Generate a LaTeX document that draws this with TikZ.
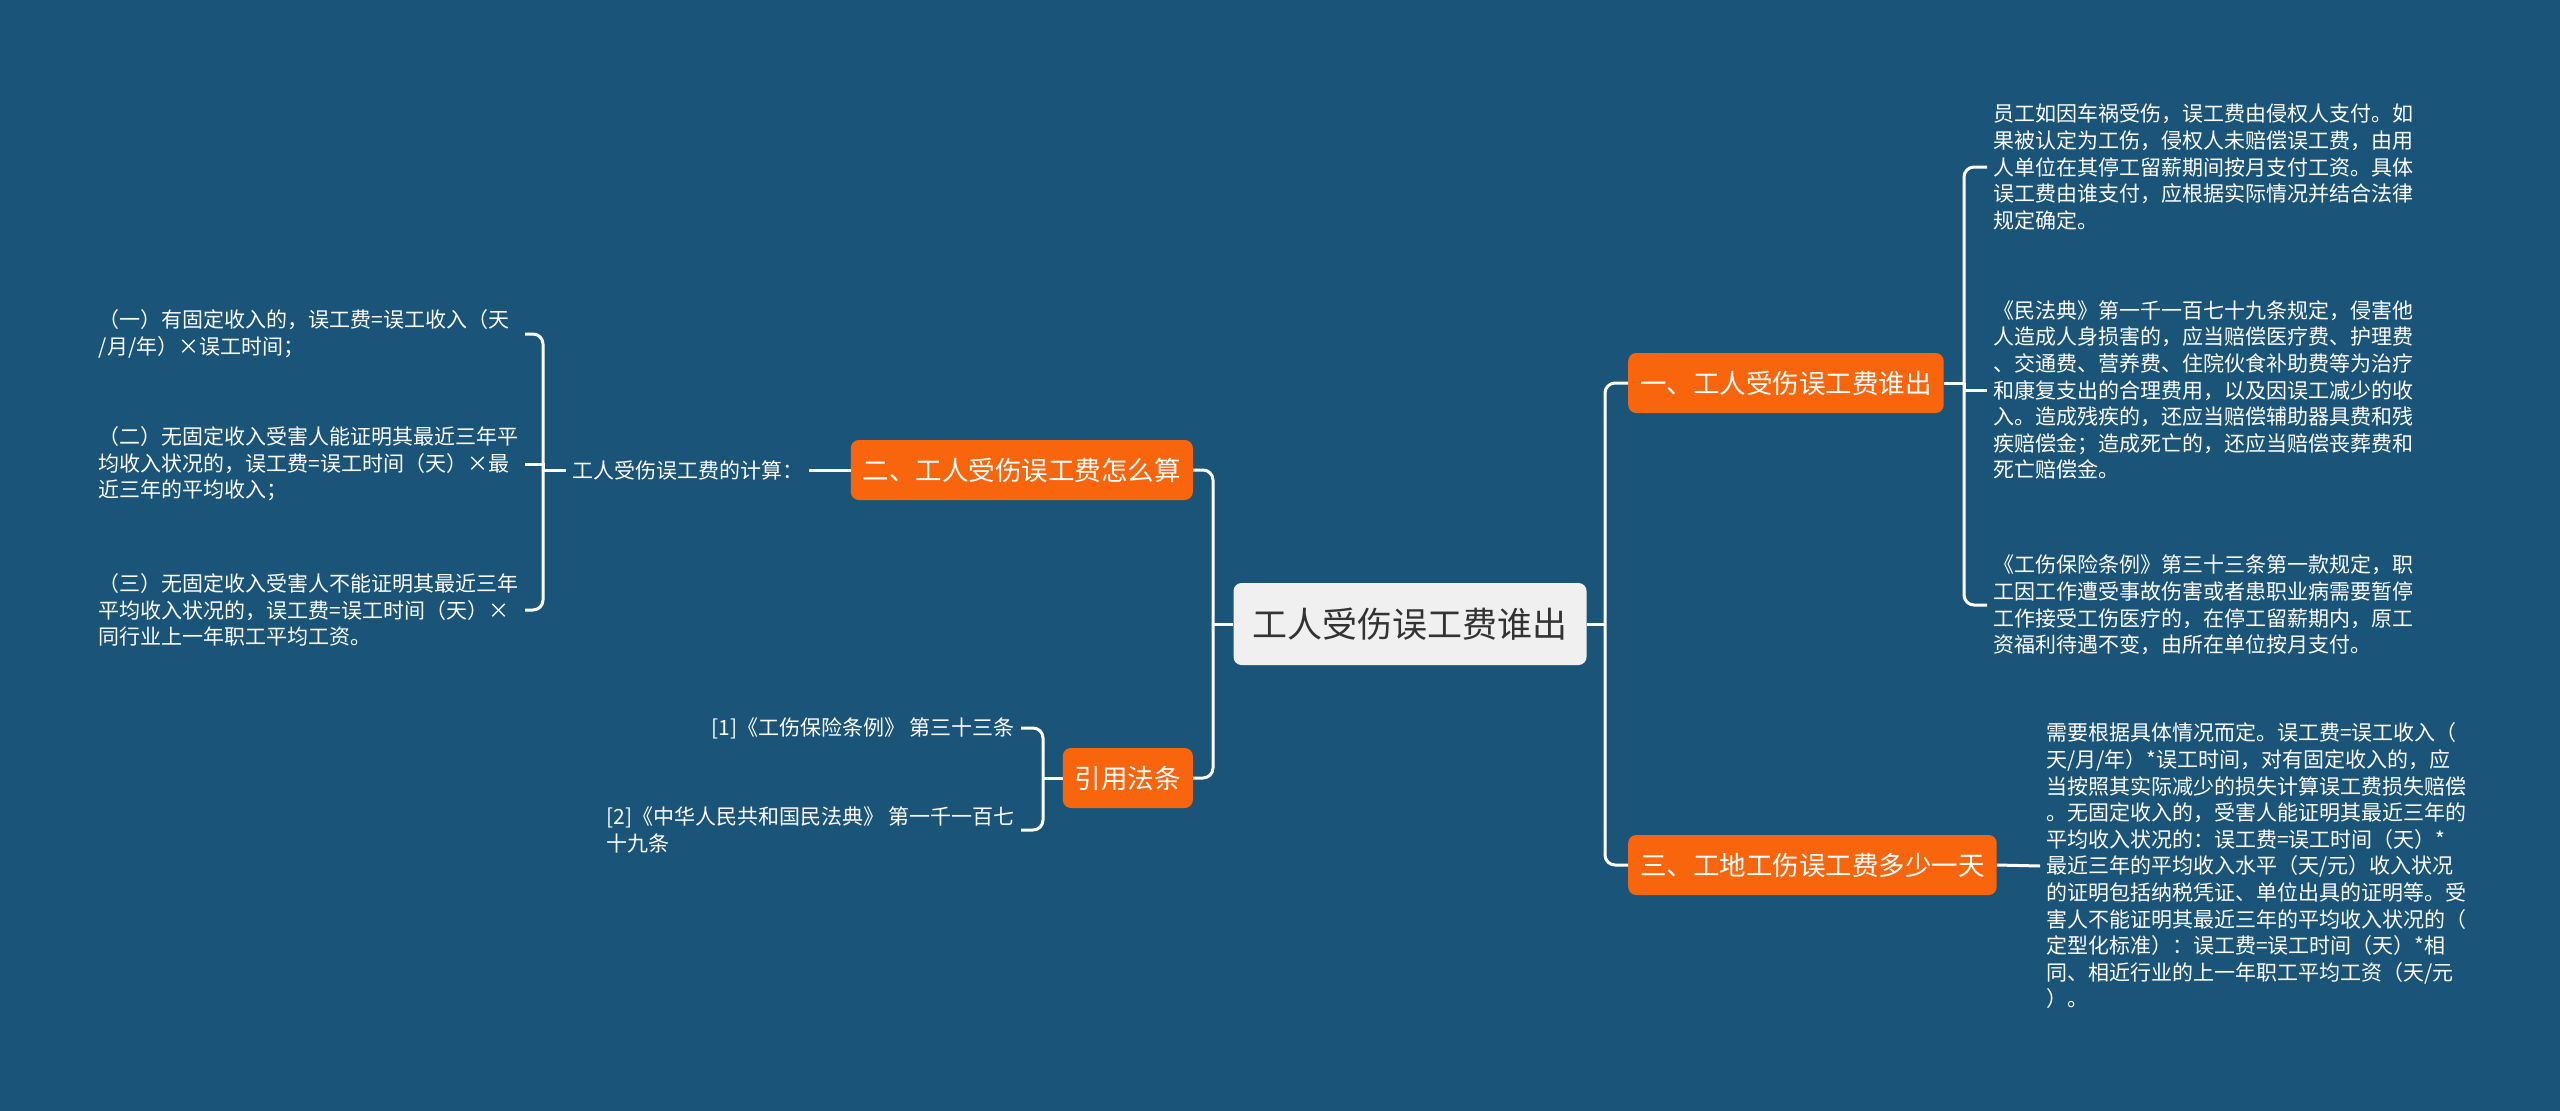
\documentclass[tikz,border=0pt]{standalone}
\usepackage{fontspec}
\setmainfont{Noto Sans CJK SC}
\usetikzlibrary{positioning}
\definecolor{mmbg}{HTML}{1B5479}
\definecolor{mmorange}{HTML}{F8650C}
\definecolor{mmroot}{HTML}{F0F0F0}
\definecolor{mmtext}{HTML}{333333}
\tikzset{
  rootnode/.style = {fill=mmroot, text=mmtext, rounded corners=8pt,
                     inner xsep=19pt, minimum height=82pt,
                     font=\fontsize{35}{42}\selectfont},
  topic/.style    = {fill=mmorange, text=white, rounded corners=8pt,
                     inner xsep=12pt, minimum height=60pt,
                     font=\fontsize{26.5}{32}\selectfont},
  leaf/.style     = {text=white, align=left, inner sep=6pt,
                     font=\fontsize{21}{26.6}\selectfont},
  leafw/.style    = {leaf, text width=420pt},
  link/.style     = {draw=white, line width=3pt},
  elbow/.style    = {link, rounded corners=10pt},
}

\begin{document}
\begin{tikzpicture}[x=1pt, y=-1pt]

  \fill[mmbg] (0,0) rectangle (2560,1111);
  \useasboundingbox (0,0) rectangle (2560,1111);

  \node[rootnode] (root) at (1410,624) {工人受伤误工费谁出};

  \node[topic, anchor=west] (b1)   at (1628,383) {一、工人受伤误工费谁出};
  \node[topic, anchor=west] (b3)   at (1628,865) {三、工地工伤误工费多少一天};
  \node[topic, anchor=east] (b2)   at (1193,470) {二、工人受伤误工费怎么算};
  \node[topic, anchor=east] (cite) at (1193,778) {引用法条};

  % right side leaves
  \node[leaf, anchor=west] (r1) at (1987,167)
    {员工如因车祸受伤，误工费由侵权人支付。如\\
     果被认定为工伤，侵权人未赔偿误工费，由用\\
     人单位在其停工留薪期间按月支付工资。具体\\
     误工费由谁支付，应根据实际情况并结合法律\\
     规定确定。};
  \node[leaf, anchor=west] (r2) at (1987,390)
    {《民法典》第一千一百七十九条规定，侵害他\\
     人造成人身损害的，应当赔偿医疗费、护理费\\
     、交通费、营养费、住院伙食补助费等为治疗\\
     和康复支出的合理费用，以及因误工减少的收\\
     入。造成残疾的，还应当赔偿辅助器具费和残\\
     疾赔偿金；造成死亡的，还应当赔偿丧葬费和\\
     死亡赔偿金。};
  \node[leaf, anchor=west] (r3) at (1987,605)
    {《工伤保险条例》第三十三条第一款规定，职\\
     工因工作遭受事故伤害或者患职业病需要暂停\\
     工作接受工伤医疗的，在停工留薪期内，原工\\
     资福利待遇不变，由所在单位按月支付。};
  \node[leaf, anchor=west] (r4) at (2040,866)
    {需要根据具体情况而定。误工费=误工收入（\\
     天/月/年）*误工时间，对有固定收入的，应\\
     当按照其实际减少的损失计算误工费损失赔偿\\
     。无固定收入的，受害人能证明其最近三年的\\
     平均收入状况的：误工费=误工时间（天）*\\
     最近三年的平均收入水平（天/元）收入状况\\
     的证明包括纳税凭证、单位出具的证明等。受\\
     害人不能证明其最近三年的平均收入状况的（\\
     定型化标准）：误工费=误工时间（天）*相\\
     同、相近行业的上一年职工平均工资（天/元\\
     ）。};

  % left side leaves
  \node[leaf, anchor=west] (lab) at (566,470) {工人受伤误工费的计算：};
  \node[leafw, anchor=east] (l1) at (525,334)
    {（一）有固定收入的，误工费=误工收入（天\\
     /月/年）×误工时间；};
  \node[leafw, anchor=east] (l2) at (525,464)
    {（二）无固定收入受害人能证明其最近三年平\\
     均收入状况的，误工费=误工时间（天）×最\\
     近三年的平均收入；};
  \node[leafw, anchor=east] (l3) at (525,610)
    {（三）无固定收入受害人不能证明其最近三年\\
     平均收入状况的，误工费=误工时间（天）×\\
     同行业上一年职工平均工资。};
  \node[leaf, anchor=east] (c1) at (1021,728) {[1]《工伤保险条例》 第三十三条};
  \node[leaf, anchor=east] (c2) at (1021,830)
    {[2]《中华人民共和国民法典》 第一千一百七\\
     十九条};

  % connectors
  \coordinate (lsp)  at (1213,624);
  \coordinate (rsp)  at (1605,624);
  \coordinate (b1sp) at (1964,383);
  \coordinate (labsp) at (543,470);
  \coordinate (citesp) at (1043,778);

  \draw[link] (root.west) -- (lsp);
  \draw[elbow] (lsp) |- (b2.east);
  \draw[elbow] (lsp) |- (cite.east);
  \draw[link] (root.east) -- (rsp);
  \draw[elbow] (rsp) |- (b1.west);
  \draw[elbow] (rsp) |- (b3.west);

  \draw[link] (b1.east) -- (b1sp);
  \draw[elbow] (b1sp) |- (r1.west);
  \draw[link] (b1sp) |- (r2.west);
  \draw[elbow] (b1sp) |- (r3.west);
  \draw[link] (b3.east) -- (r4.west);

  \draw[link] (b2.west) -- (lab.east);
  \draw[link] (lab.west) -- (labsp);
  \draw[elbow] (labsp) |- (l1.east);
  \draw[link] (labsp) |- (l2.east);
  \draw[elbow] (labsp) |- (l3.east);

  \draw[link] (cite.west) -- (citesp);
  \draw[elbow] (citesp) |- (c1.east);
  \draw[elbow] (citesp) |- (c2.east);

\end{tikzpicture}
\end{document}
